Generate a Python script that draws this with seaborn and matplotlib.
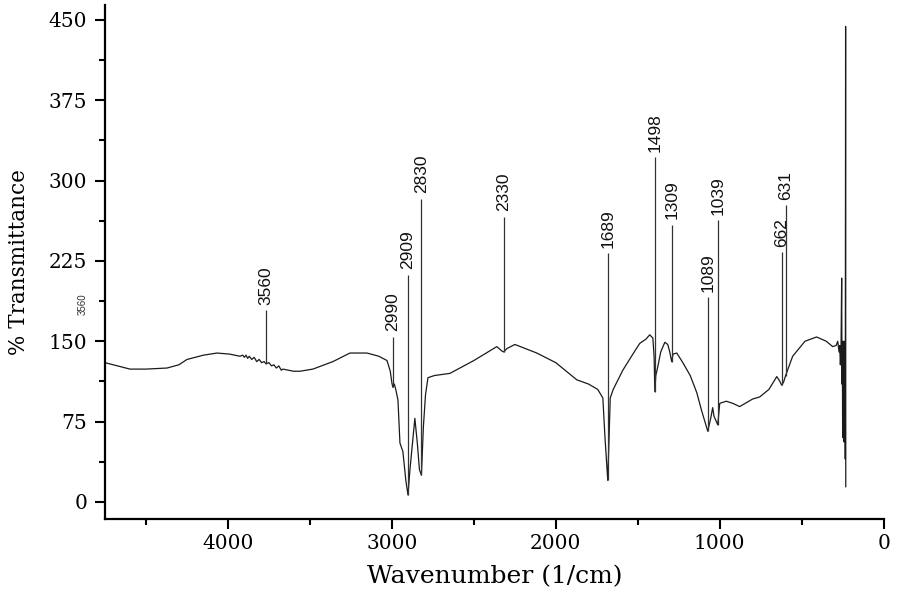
import matplotlib
matplotlib.use("Agg")
import matplotlib.pyplot as plt
import seaborn as sns
import numpy as np
import pandas as pd
from matplotlib.ticker import MultipleLocator

# ---- data ----
wavenumber = [4750, 4650, 4598, 4500, 4372, 4300, 4250, 4150, 4067, 3990, 3927, 3910, 3900, 3890,
              3880, 3870, 3855, 3840, 3825, 3810, 3795, 3780, 3768, 3750, 3735, 3720, 3705, 3690,
              3675, 3665, 3600, 3561, 3482, 3360, 3256, 3152, 3080, 3030, 3010, 3000, 2994, 2985,
              2975, 2963, 2951, 2940, 2933, 2915, 2902, 2890, 2860, 2845, 2832, 2820, 2808, 2795,
              2780, 2740, 2646, 2500, 2360, 2330, 2317, 2300, 2250, 2116, 2000, 1872, 1800, 1744,
              1713, 1700, 1683, 1675, 1668, 1650, 1591, 1530, 1488, 1450, 1427, 1408, 1400, 1396,
              1390, 1378, 1360, 1335, 1317, 1305, 1293, 1285, 1262, 1225, 1180, 1140, 1110, 1073,
              1055, 1043, 1035, 1012, 1000, 960, 920, 878, 800, 756, 700, 652, 635, 622, 610, 598,
              555, 480, 409, 350, 311, 290, 280, 272, 268, 264, 260, 256, 254, 252, 250, 248, 246,
              244, 242, 240, 238, 236, 234, 232, 231]
transmittance = [130, 126, 124, 124, 125, 128, 133, 137, 139, 138, 136, 137, 135, 137,
                 134, 136, 133, 135, 131, 133, 130, 131, 129, 130, 127, 128, 125, 127,
                 123, 124, 122, 122, 124, 131, 139, 139, 136, 132, 122, 111, 107, 110,
                 104, 95, 55, 50, 47, 20, 6.5, 30, 78, 55, 30, 25, 70, 100,
                 116, 118, 120, 132, 145, 141, 140, 143, 147, 139, 130, 114, 110, 105,
                 97, 60, 20, 60, 97, 105, 123, 138, 148, 152, 156, 153, 135, 103,
                 118, 126, 140, 149, 147, 140, 131, 138, 139, 130, 118, 102, 85, 66,
                 78, 88, 80, 72, 92, 94, 92, 89, 96, 98, 105, 117, 113, 109, 112, 118,
                 136, 150, 154, 150, 145, 146, 150, 140, 146, 128, 142, 209, 110, 150, 60, 135, 100,
                 150, 56, 140, 90, 150, 40, 444, 14]

peak_labels = ["3560", "2990", "2909", "2830", "2330", "1689", "1498", "1309",
               "1089", "1039", "662", "631"]
peak_positions = [3768, 2994, 2902, 2820, 2317, 1683, 1396, 1293, 1073, 1012, 622, 598]
label_heights = [179, 154, 212, 283, 266, 232, 322, 259, 191, 263, 233, 277]

df = pd.DataFrame({"Wavenumber": wavenumber, "T": transmittance})

# ---- style ----
sns.set_style("ticks")
plt.rcParams["font.family"] = ["DejaVu Serif"]
plt.rcParams["text.color"] = "black"
plt.rcParams["axes.labelcolor"] = "black"

fig = plt.figure(figsize=(8.98, 6.01), dpi=100)
ax = fig.add_axes([0.117, 0.1364, 0.867, 0.8553])

sns.lineplot(data=df, x="Wavenumber", y="T", sort=False, estimator=None,
             color="#1a1a1a", linewidth=0.9, ax=ax)

ax.set_xlim(4750, 0)
ax.set_ylim(-16, 464)

# annotation lines and labels
wn = np.array(wavenumber)[::-1]
tr = np.array(transmittance)[::-1]
for lab, xp, top in zip(peak_labels, peak_positions, label_heights):
    base = float(np.interp(xp, wn, tr))
    ax.vlines(xp, base, top, color="#333333", linewidth=0.9)
    ax.annotate(lab, xy=(xp, top), xytext=(0, 4), textcoords="offset points",
                rotation=90, ha="center", va="bottom", fontsize=12.5,
                family=["Liberation Sans", "DejaVu Sans"], color="#111111")

ax.xaxis.set_major_locator(MultipleLocator(1000))
ax.xaxis.set_minor_locator(MultipleLocator(500))
ax.yaxis.set_major_locator(MultipleLocator(75))
ax.yaxis.set_minor_locator(MultipleLocator(37.5))
ax.tick_params(axis="both", which="major", length=7, width=1.5, labelsize=14.5,
               direction="out", color="black", labelcolor="black")
ax.tick_params(axis="y", which="major", pad=6)
ax.tick_params(axis="both", which="minor", length=4, width=1.5, direction="out", color="black")

for s in ["left", "bottom"]:
    ax.spines[s].set_linewidth(1.6)
    ax.spines[s].set_color("black")
sns.despine(ax=ax)

ax.set_xlabel("Wavenumber (1/cm)", fontsize=18, labelpad=9, color="black")
ax.set_ylabel("% Transmittance", fontsize=15.5, labelpad=13, color="black")

fig.text(0.0924, 0.494, "3560", rotation=90, fontsize=7, ha="center", va="center",
         family=["Liberation Sans", "DejaVu Sans"], color="#333333")

fig.savefig("out.png", dpi=100)
